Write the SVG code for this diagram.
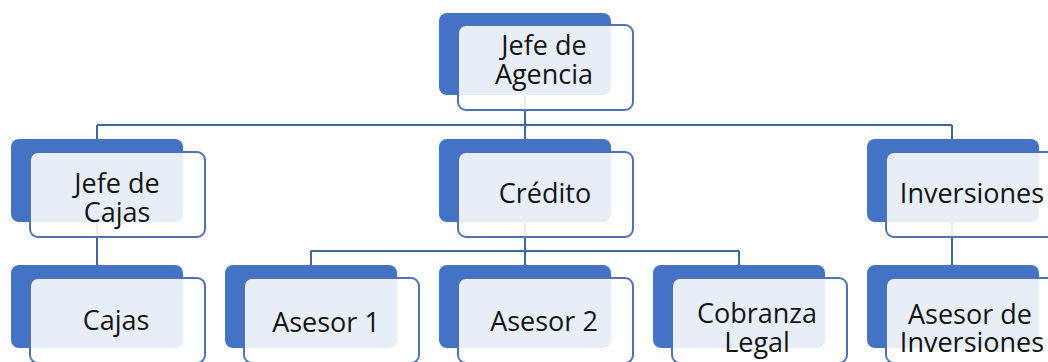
<svg xmlns="http://www.w3.org/2000/svg" width="1048" height="362" viewBox="0 0 1048 362">
<style>
.bk{fill:#4472C4;}
.fr{fill:#ffffff;fill-opacity:0.88;stroke:#4E72B3;stroke-width:2;}
.t{font-family:"Open Sans","Noto Sans",sans-serif;font-size:27px;fill:#141414;text-anchor:middle;}
.c{fill:none;stroke:#41679E;stroke-width:2;}
</style>
<rect width="1048" height="362" fill="#ffffff"/>
<g id="connectors">
<path class="c" d="M525 95V125M97 125H952M97 125V139M525 125V139M952 125V139"/>
<path class="c" d="M97 222V265"/>
<path class="c" d="M952 222V265"/>
<path class="c" d="M525 222V251M311 251H739M311 251V265M525 251V265M739 251V265"/>
</g>
<g id="jefe-agencia">
<rect class="bk" x="439" y="13" width="172" height="82" rx="8"/>
<rect class="fr" x="458" y="25" width="175" height="85" rx="8"/>
<text class="t" x="544" y="55">Jefe de</text>
<text class="t" x="544" y="84">Agencia</text>
</g>
<g id="jefe-cajas">
<rect class="bk" x="11" y="139" width="172" height="83" rx="8"/>
<rect class="fr" x="30" y="152" width="175" height="85" rx="8"/>
<text class="t" x="117" y="193">Jefe de</text>
<text class="t" x="117" y="222">Cajas</text>
</g>
<g id="credito">
<rect class="bk" x="439" y="139" width="172" height="83" rx="8"/>
<rect class="fr" x="458" y="152" width="175" height="85" rx="8"/>
<text class="t" x="545" y="203">Crédito</text>
</g>
<g id="inversiones">
<rect class="bk" x="867" y="139" width="172" height="83" rx="8"/>
<rect class="fr" x="886" y="152" width="175" height="85" rx="8"/>
<text class="t" x="972" y="203">Inversiones</text>
</g>
<g id="cajas">
<rect class="bk" x="11" y="265" width="172" height="83" rx="8"/>
<rect class="fr" x="30" y="278" width="175" height="85" rx="8"/>
<text class="t" x="116" y="330">Cajas</text>
</g>
<g id="asesor-1">
<rect class="bk" x="225" y="265" width="172" height="83" rx="8"/>
<rect class="fr" x="244" y="278" width="175" height="85" rx="8"/>
<text class="t" x="326" y="332">Asesor 1</text>
</g>
<g id="asesor-2">
<rect class="bk" x="439" y="265" width="172" height="83" rx="8"/>
<rect class="fr" x="458" y="278" width="175" height="85" rx="8"/>
<text class="t" x="544" y="331">Asesor 2</text>
</g>
<g id="cobranza-legal">
<rect class="bk" x="653" y="265" width="172" height="83" rx="8"/>
<rect class="fr" x="672" y="278" width="175" height="85" rx="8"/>
<text class="t" x="757" y="323">Cobranza</text>
<text class="t" x="757" y="352">Legal</text>
</g>
<g id="asesor-inversiones">
<rect class="bk" x="867" y="265" width="172" height="83" rx="8"/>
<rect class="fr" x="886" y="278" width="175" height="85" rx="8"/>
<text class="t" x="970" y="324">Asesor de</text>
<text class="t" x="972" y="352">Inversiones</text>
</g>
</svg>
